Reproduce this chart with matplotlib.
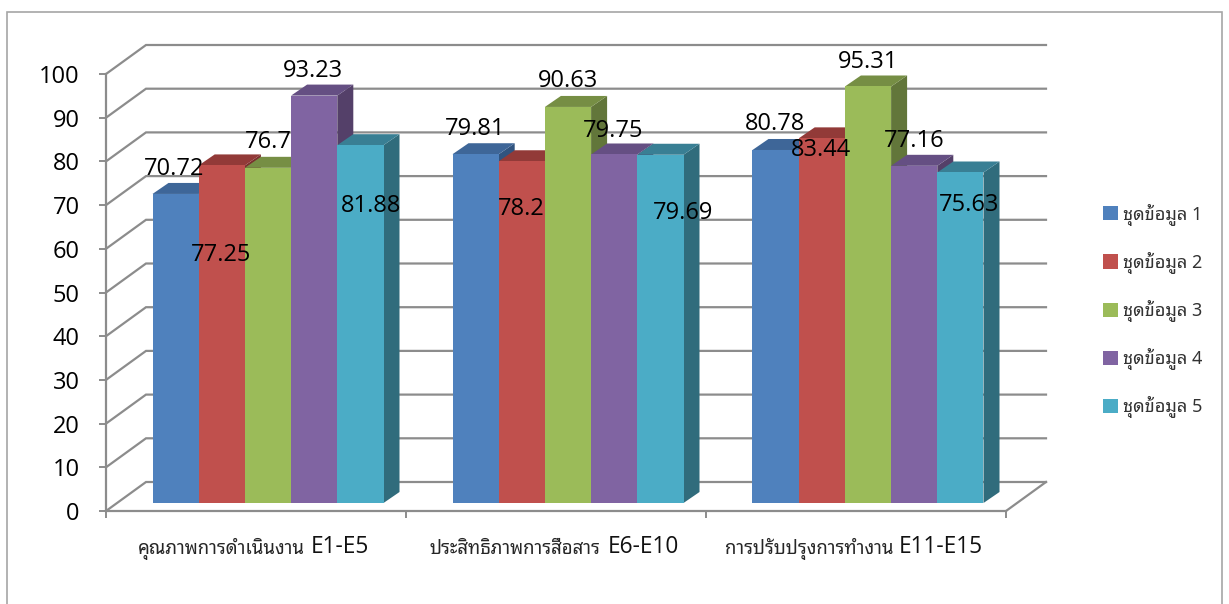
import matplotlib
matplotlib.use("Agg")
import matplotlib.pyplot as plt
from matplotlib.patches import Polygon, Rectangle, Patch
from matplotlib.transforms import ScaledTranslation
from matplotlib import font_manager as fm

W, H = 1229, 604
installed = {f.name for f in fm.fontManager.ttflist}
thai_pick = [n for n in ["Noto Sans Thai Looped", "Noto Sans Thai", "Sarabun"] if n in installed]
thai_family = thai_pick[:1] + ['Open Sans', 'DejaVu Sans']
plt.rcParams['font.family'] = ['Open Sans', 'DejaVu Sans']

categories_thai = ["คุณภาพการดำเนินงาน", "ประสิทธิภาพการสื่อสาร", "การปรับปรุงการทำงาน"]
categories_code = ["E1-E5", "E6-E10", "E11-E15"]
series_names = ["ชุดข้อมูล 1", "ชุดข้อมูล 2", "ชุดข้อมูล 3", "ชุดข้อมูล 4", "ชุดข้อมูล 5"]
series_1 = [70.72, 79.81, 80.78]
series_2 = [77.25, 78.2, 83.44]
series_3 = [76.7, 90.63, 95.31]
series_4 = [93.23, 79.75, 77.16]
series_5 = [81.88, 79.69, 75.63]
all_series = [series_1, series_2, series_3, series_4, series_5]
yticks = list(range(0, 101, 10))

front = ["#4F81BD", "#C0504D", "#9BBB59", "#8064A2", "#4BACC6"]
top = ["#3E6698", "#923A38", "#768E44", "#654F83", "#397F94"]
side = ["#31547F", "#7A302E", "#62763A", "#544069", "#306C7C"]
grid_c = "#8C8C8C"

fig = plt.figure(figsize=(W / 100, H / 100), dpi=100, facecolor="white")
fig.add_artist(Rectangle((7 / W, -0.02), (1222 - 7) / W, 1 - 12 / H + 0.02, transform=fig.transFigure,
                         fill=False, ec="#A6A6A6", lw=1.2))

# front plane of the pseudo-3D plot: x 106..1006 px, y 511..74 px
ax = fig.add_axes([106 / W, 1 - 511 / H, 900 / W, (511 - 74) / H])
ax.set_xlim(0, 3)
ax.set_ylim(0, 100)
ax.patch.set_alpha(0)
pxx = 3 / 900
pxy = 100 / 437
depth_x, depth_y = 40 * pxx, 29 * pxy

for v in yticks:
    ax.plot([0, depth_x, 3 + depth_x], [v, v + depth_y, v + depth_y], color=grid_c, lw=1.6,
            clip_on=False, zorder=1, solid_joinstyle="miter")
ax.plot([3, 3 + depth_x], [0, depth_y], color=grid_c, lw=1.6, clip_on=False, zorder=1)

bw = 46.2 * pxx
n = len(all_series)
shift_x = 12 * pxx
base = 8 * pxy
sx, sy = 16 * pxx, 11 * pxy
for g in range(3):
    for s, vals in enumerate(all_series):
        x0 = g + 0.5 - n * bw / 2 + s * bw + shift_x
        x1 = x0 + bw
        v = vals[g]
        ytop = base + v
        z = 2 + g + s * 0.1
        ax.add_patch(Polygon([(x1, base), (x1 + sx, base + sy), (x1 + sx, ytop + sy), (x1, ytop)],
                             fc=side[s], ec="none", clip_on=False, zorder=z))
        ax.add_patch(Polygon([(x0, ytop), (x0 + sx, ytop + sy), (x1 + sx, ytop + sy), (x1, ytop)],
                             fc=top[s], ec="none", clip_on=False, zorder=z))
        ax.add_patch(Rectangle((x0, base), bw, v, fc=front[s], ec="none", clip_on=False, zorder=z + 0.05))

for sp in ["top", "right"]:
    ax.spines[sp].set_visible(False)
for sp in ["left", "bottom"]:
    ax.spines[sp].set_color(grid_c)
    ax.spines[sp].set_linewidth(1.6)
    ax.spines[sp].set_zorder(1.5)
ax.set_yticks(yticks)
ax.set_xticks([0, 1, 2, 3])
ax.set_xticklabels([])
ax.tick_params(axis="y", length=5, width=1.4, color=grid_c, pad=14, labelsize=17, labelcolor="black")
ax.tick_params(axis="x", length=5, width=1.4, color=grid_c)

# data labels, placed as in the reference (pixel centres)
label_px = [
    [(174, 169), (475, 129), (775, 124)],
    [(221, 255), (521, 209), (821, 150)],
    [(268, 142), (568, 81), (868, 62)],
    [(313, 71), (613, 131), (914, 141)],
    [(371, 206), (683, 213), (969, 205)],
]
for s, vals in enumerate(all_series):
    for g, v in enumerate(vals):
        x, y = label_px[s][g]
        fig.text(x / W, 1 - y / H, str(v), ha="center", va="center", fontsize=17, color="black", zorder=20)

# category labels
thai_end = [305, 600, 893]
code_start = [311, 608, 899]
for g in range(3):
    fig.text(thai_end[g] / W, 1 - 549 / H, categories_thai[g], ha="right", va="center",
             fontsize=13.4, color="#262626", family=thai_family)
    fig.text(code_start[g] / W, 1 - 547 / H, categories_code[g], ha="left", va="center",
             fontsize=16.3, color="#111111")

handles = [Patch(fc=c, ec="none", label=nm) for c, nm in zip(front, series_names)]
leg = fig.legend(handles=handles, loc="center left", bbox_to_anchor=(1103 / W, 1 - 311 / H), frameon=False,
                 handlelength=0.83, handleheight=0.83, handletextpad=0.28,
                 labelspacing=1.45, labelcolor="#333333", borderpad=0, borderaxespad=0,
                 prop={"family": thai_family, "size": 13})

fig.savefig("out.png", dpi=100)
